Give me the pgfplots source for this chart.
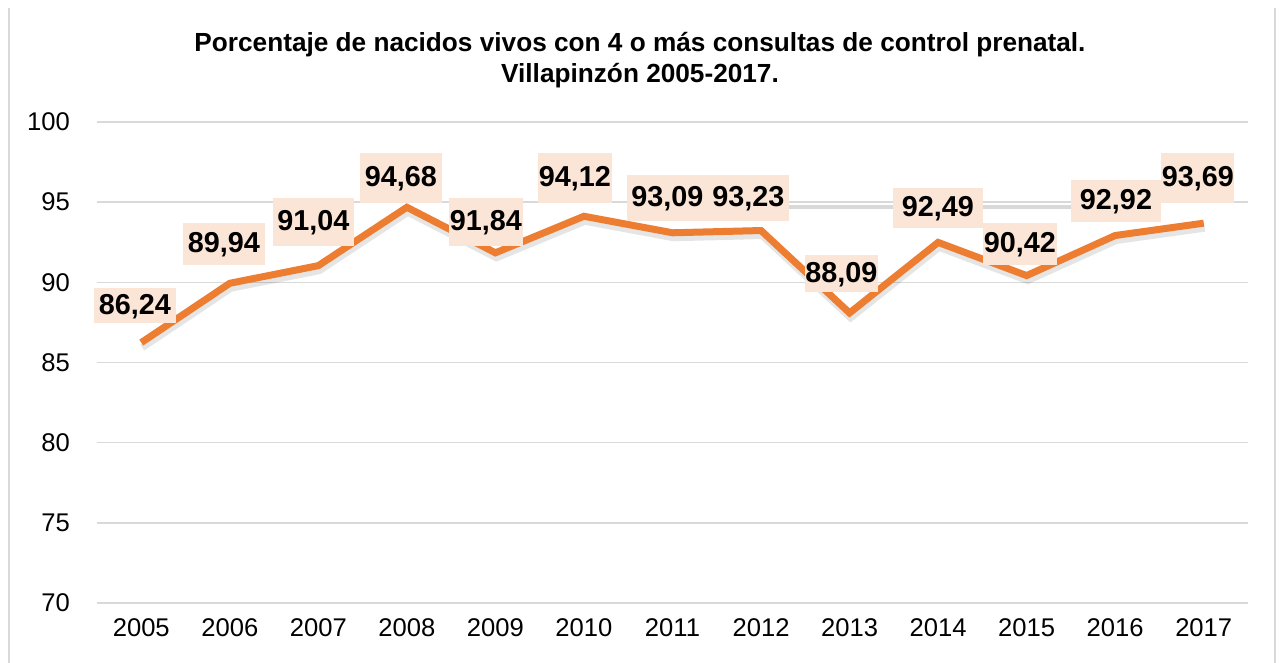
\documentclass[border=0pt]{standalone}
\usepackage{pgfplots}
\pgfplotsset{compat=1.18}
\usepackage{pgfplotstable}
\usepackage{fontspec}
\setmainfont{Liberation Sans}
\definecolor{lineor}{HTML}{ED7D31}
\definecolor{boxbg}{HTML}{FBE5D6}
\definecolor{gridc}{HTML}{D9D9D9}
\pgfplotstableread{
x y
0 86.24
1 89.94
2 91.04
3 94.68
4 91.84
5 94.12
6 93.09
7 93.23
8 88.09
9 92.49
10 90.42
11 92.92
12 93.69
}\datatab
\pgfplotstableread{
x y lab w h
-0.071 88.56 86,24 41 17.5
0.934 92.39 89,94 41 21
1.945 93.76 91,04 40.5 24
2.933 96.51 94,68 41 25
3.893 93.76 91,84 37 24
4.898 96.51 94,12 37 25
5.943 95.26 93,09 40.5 23
6.858 95.26 93,23 40.5 23
7.908 90.55 88,09 36.5 18.5
8.998 94.64 92,49 45 20
9.924 92.39 90,42 37 21
11.009 95.07 92,92 45 21
11.935 96.51 93,69 36.5 25
}\labtab
\begin{document}
\begin{tikzpicture}[x=1pt,y=1pt]
\path[use as bounding box] (0,0) rectangle (640,331.5);
\draw[gridc, line width=1pt] (4.5,0) -- (4.5,327.5);
\draw[gridc, line width=1pt] (637.5,0) -- (637.5,327.5);
\node[font=\fontsize{13.1}{15.3}\selectfont\bfseries, align=center] at (320,301.5)
  {Porcentaje de nacidos vivos con 4 o más consultas de control prenatal.\\Villapinzón 2005-2017.};
\begin{axis}[
  at={(48.5pt,30pt)}, anchor=south west,
  scale only axis, width=575.5pt, height=240.5pt,
  xmin=-0.5, xmax=12.5, ymin=70, ymax=100,
  ytick={70,75,...,100},
  xtick={0,...,12},
  xticklabels={2005,2006,2007,2008,2009,2010,2011,2012,2013,2014,2015,2016,2017},
  axis line style={draw=none},
  major tick style={draw=none},
  ymajorgrids,
  grid style={gridc, line width=0.8pt},
  tick label style={font=\fontsize{12.8}{14}\selectfont},
  /pgf/number format/assume math mode=true,
  yticklabel style={xshift=-10pt},
  xticklabel style={yshift=-4.5pt},
  clip=false,
]
\addplot[gridc, line width=2pt, forget plot] coordinates {(7.30,94.67) (10.59,94.67)};
\addplot[black, opacity=0.10, line width=3.5pt, xshift=0.5pt, yshift=-2.5pt, forget plot] table[x=x,y=y] {\datatab};
\addplot[lineor, line width=3.5pt, line join=miter] table[x=x,y=y] {\datatab};
\addplot[draw=none, mark=none,
  nodes near coords,
  point meta=explicit symbolic,
  visualization depends on={\thisrow{w}\as\bw},
  visualization depends on={\thisrow{h}\as\bh},
  nodes near coords style={anchor=center, fill=boxbg,
    font=\fontsize{14.4}{15}\selectfont\bfseries,
    inner sep=0pt, minimum width=\bw pt, minimum height=\bh pt,
    text height=10.4pt, text depth=1.8pt}
] table[x=x,y=y,meta=lab] {\labtab};
\end{axis}
\end{tikzpicture}
\end{document}
